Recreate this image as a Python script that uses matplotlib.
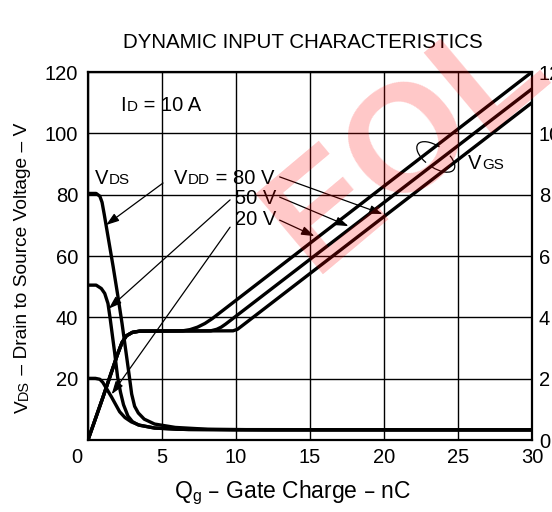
import numpy as np
import matplotlib
matplotlib.use('Agg')
import matplotlib.pyplot as plt
from matplotlib.patches import Arc
from matplotlib.transforms import ScaledTranslation

plt.rcParams['font.family'] = ['Liberation Sans', 'DejaVu Sans']

# gate charge (nC) / drain-source voltage (V)
qg_vds80 = [0, 0.55, 0.8, 0.95, 1.1, 1.4, 1.7, 2.0, 2.3, 2.6, 2.8, 2.95, 3.15, 3.4, 3.8, 4.5, 5.9, 8.1, 12, 30]
vds80 = [80.4, 80.4, 79.5, 77.5, 73.5, 65, 56.5, 47.5, 38, 27.5, 20.5, 15, 11, 8.8, 6.8, 5.2, 4.1, 3.5, 3.3, 3.3]
qg_vds50 = [0, 0.55, 0.9, 1.13, 1.35, 1.5, 1.8, 2.0, 2.2, 2.4, 2.7, 3.0, 3.4, 4.5, 6, 10, 30]
vds50 = [50.5, 50.5, 49.4, 47.8, 44.5, 39.5, 28.5, 20.5, 15.5, 11.5, 7.8, 6.0, 4.9, 3.9, 3.5, 3.3, 3.3]
qg_vds20 = [0, 0.5, 0.8, 1.0, 1.2, 1.58, 2.14, 2.5, 2.93, 3.5, 4.5, 6.8, 30]
vds20 = [20.1, 20.1, 19.8, 18.8, 17.2, 14.1, 9.2, 7.3, 5.9, 4.8, 3.9, 3.4, 3.3]

# gate-source voltage, in left-axis units (right axis = left / 10)
qg_vgs20 = [0, 1.0, 2.0, 2.3, 2.6, 3.0, 3.5, 6.4, 6.9, 7.4, 7.9, 8.4, 30]
vgs20 = [0, 13.8, 28, 31.8, 34.0, 35.1, 35.5, 35.6, 36.0, 36.8, 38.0, 39.6, 120]
qg_vgs50 = [0, 1.0, 2.0, 2.3, 2.6, 3.0, 3.5, 8.3, 8.7, 9.0, 9.3, 30]
vgs50 = [0, 13.8, 28, 31.8, 34.0, 35.1, 35.5, 35.6, 36.1, 36.8, 37.8, 114.5]
qg_vgs80 = [0, 1.0, 2.0, 2.3, 2.6, 3.0, 3.5, 9.8, 10.1, 10.4, 30]
vgs80 = [0, 13.8, 28, 31.8, 34.0, 35.1, 35.5, 35.6, 36.1, 37.2, 110]

x_ticks = [0, 5, 10, 15, 20, 25, 30]
y_ticks = [0, 20, 40, 60, 80, 100, 120]
y2_ticks = [0, 2, 4, 6, 8, 10, 12]

fig = plt.figure(figsize=(5.52, 5.12), dpi=100)
ax = fig.add_axes([88 / 552, 72 / 512, 444 / 552, 368 / 512])

curve = dict(color='black', lw=2.4, solid_capstyle='butt', zorder=3)
ax.plot(qg_vds80, vds80, **curve)
ax.plot(qg_vds50, vds50, **curve)
ax.plot(qg_vds20, vds20, **curve)
ax.plot(qg_vgs20, vgs20, **curve)
ax.plot(qg_vgs50, vgs50, **curve)
ax.plot(qg_vgs80, vgs80, **curve)

ax.set_xlim(0, 30)
ax.set_ylim(0, 120)
ax.set_xticks(x_ticks)
ax.set_yticks(y_ticks)
ax.set_xticklabels([''] + [str(v) for v in x_ticks[1:]])
ax.set_yticklabels([''] + [str(v) for v in y_ticks[1:]])
ax.grid(True, color='black', lw=1.0)
ax.tick_params(length=0, labelsize=14.5, colors='black')
ax.tick_params(axis='y', pad=7)
ax.tick_params(axis='x', pad=6)
for sp in ax.spines.values():
    sp.set_linewidth(1.6)

# the "0" at the origin sits left of the corner
ax.annotate('0', xy=(0, 0), xytext=(-8, -6), textcoords='offset points',
            ha='center', va='top', fontsize=14.5, annotation_clip=False)

ax2 = ax.twinx()
ax2.set_ylim(0, 12)
ax2.set_yticks(y2_ticks)
ax2.tick_params(length=0, labelsize=14.5, pad=5)
for sp in ax2.spines.values():
    sp.set_visible(False)

SUB = 0.75
LBL = 14.5


def sub_text(x, y, main, sub, rest='', size=LBL):
    dy = 0.21 * size * (1 - SUB)
    t = ax.text(x, y, main, fontsize=size, ha='left', va='center')
    s = ax.annotate(sub, xy=(1, 0), xycoords=t, xytext=(0.3, dy), textcoords='offset points',
                    fontsize=size * SUB, ha='left', va='bottom', annotation_clip=False)
    if rest:
        ax.annotate(rest, xy=(1, 0), xycoords=s, xytext=(0, -dy), textcoords='offset points',
                    fontsize=size, ha='left', va='bottom', annotation_clip=False)
    return t


sub_text(2.2, 109.2, 'I', 'D', ' = 10 A')
sub_text(0.45, 85.4, 'V', 'DS')
sub_text(5.8, 85.4, 'V', 'DD', ' = 80 V')
ax.text(12.7, 78.9, '50 V', fontsize=LBL, ha='right', va='center')
ax.text(12.7, 71.8, '20 V', fontsize=LBL, ha='right', va='center')
sub_text(25.7, 90.2, 'V', 'GS')

thin = dict(arrowstyle='-|>,head_length=0.65,head_width=0.22', color='black', lw=0.9,
            shrinkA=0, shrinkB=0, mutation_scale=12)
# VDD label -> 80 V drain curve
ax.annotate('', xy=(1.22, np.interp(1.22, qg_vds80, vds80)), xytext=(5.07, 83.8), arrowprops=thin)
# 50 V / 20 V labels -> drain curves
ax.annotate('', xy=(1.4, np.interp(1.4, qg_vds50, vds50)), xytext=(9.6, 78.3), arrowprops=thin)
ax.annotate('', xy=(1.6, np.interp(1.6, qg_vds20, vds20) + 1), xytext=(9.6, 69.4), arrowprops=thin)
# labels -> gate curves
ax.annotate('', xy=(19.9, np.interp(19.9, qg_vgs80, vgs80) + 1.2), xytext=(12.95, 85.8), arrowprops=thin)
ax.annotate('', xy=(17.6, np.interp(17.6, qg_vgs50, vgs50) + 1.2), xytext=(12.95, 79.2), arrowprops=thin)
ax.annotate('', xy=(15.3, np.interp(15.3, qg_vgs20, vgs20) + 1.2), xytext=(12.95, 71.7), arrowprops=thin)

# bracket round the three VGS lines
trans = fig.dpi_scale_trans + ScaledTranslation(23.5, 92.3, ax.transData)
ax.add_patch(Arc((0, 0), 0.44, 0.21, angle=-35, theta1=105, theta2=245, transform=trans,
                 color='black', lw=0.9, clip_on=False))
ax.add_patch(Arc((0, 0), 0.44, 0.21, angle=-35, theta1=-75, theta2=40, transform=trans,
                 color='black', lw=0.9, clip_on=False))

# y label with small-cap subscript
ysize = 13.8
dy = 0.21 * ysize * (1 - SUB)
yl = fig.text(23 / 552, 1 - 413 / 512, 'V', rotation=90, fontsize=ysize, ha='center', va='bottom')
ys = ax.annotate('DS', xy=(1, 1), xycoords=yl, xytext=(-dy, 0.3), textcoords='offset points',
                 rotation=90, fontsize=ysize * SUB, ha='right', va='bottom', annotation_clip=False)
ax.annotate(' \u2013 Drain to Source Voltage \u2013 V', xy=(1, 1), xycoords=ys, xytext=(dy, 0),
            textcoords='offset points', rotation=90, fontsize=ysize, ha='right', va='bottom',
            annotation_clip=False)

fig.text(293 / 552, 1 - 493 / 512, 'Q$_\\mathregular{g}$ \u2013 Gate Charge \u2013 nC',
         ha='center', va='center', fontsize=16.5)
fig.text(303 / 552, 1 - 43 / 512, 'DYNAMIC INPUT CHARACTERISTICS', ha='center', va='center', fontsize=14.8)

# watermark
fig.text(0.74, 0.72, 'EOL', rotation=40, color='red', alpha=0.22, fontsize=110,
         fontweight='bold', ha='center', va='center', zorder=10)

fig.savefig('out.png', dpi=100)
